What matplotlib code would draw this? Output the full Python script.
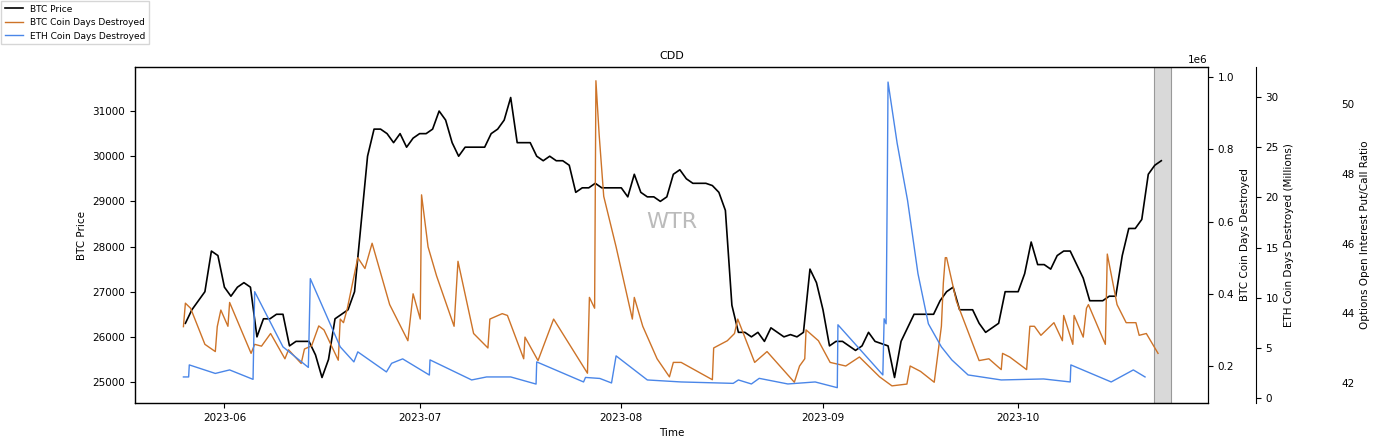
import numpy as np
import pandas as pd
import matplotlib

matplotlib.use("Agg")
import matplotlib.pyplot as plt

# BTC price, daily, 2023-05-26 .. 2023-10-23
price_start = "2023-05-26"
btc_price = [
    26300, 26600, 26800, 27000, 27900, 27800, 27100,
    26900, 27100, 27200, 27100, 26000, 26400, 26400, 26500, 26500, 25800,
    25900, 25900, 25900, 25600, 25100, 25500, 26400, 26500, 26600, 27000,
    28500, 30000, 30600, 30600, 30500, 30300, 30500, 30200, 30400, 30500,
    30500, 30600, 31000, 30800, 30300, 30000, 30200, 30200, 30200, 30200,
    30500, 30600, 30800, 31300, 30300, 30300, 30300, 30000, 29900, 30000,
    29900, 29900, 29800, 29200, 29300, 29300, 29400, 29300, 29300, 29300, 29300,
    29100, 29600, 29200, 29100, 29100, 29000, 29100, 29600, 29700, 29500,
    29400, 29400, 29400, 29350, 29200, 28800, 26700, 26100, 26100, 26000,
    26100, 25900, 26200, 26100, 26000, 26050, 26000, 26100, 27500, 27200, 26600,
    25800, 25900, 25900, 25800, 25700, 25800, 26100, 25900, 25850, 25800,
    25100, 25900, 26200, 26500, 26500, 26500, 26500, 26800, 27000, 27100,
    26600, 26600, 26600, 26300, 26100, 26200, 26300, 27000, 27000, 27000,
    27400, 28100, 27600, 27600, 27500, 27800, 27900, 27900, 27600, 27300,
    26800, 26800, 26800, 26900, 26900, 27800, 28400, 28400, 28600, 29600,
    29800, 29900,
]

# keypoints: days after 2023-06-01
base_date = "2023-06-01"
btc_cdd_days = [
    -6.3, -6.0, -5.2, -3.0, -1.4, -1.1, -0.55, 0.54, 0.8, 4.1, 4.65, 5.7, 7.1,
    9.3, 9.85, 11.8, 12.3, 13.4, 14.5, 15.3, 17.5, 17.8, 18.3, 18.9, 20.5,
    21.6, 22.7, 25.4, 28.2, 29.0, 30.1, 30.3, 31.3, 32.6, 35.3, 35.9, 38.3,
    40.5, 40.8, 42.7, 43.5, 46.0, 46.2, 48.2, 50.6, 55.8, 56.1, 56.9, 57.1,
    57.6, 58.3, 60.2, 62.7, 63.0, 64.3, 66.5, 68.4, 69.0, 70.2, 75.0, 75.2,
    77.3, 78.4, 78.9, 81.5, 83.4, 87.6, 88.4, 89.2, 89.4, 91.3, 93.1, 95.5,
    97.6, 100.7, 102.6, 104.9, 105.4, 107.0, 109.1, 110.2, 110.5, 110.8,
    111.0, 112.5, 116.0, 117.5, 119.4, 119.6, 120.7, 123.3, 123.8, 124.5,
    125.5, 127.5, 128.8, 129.0, 130.4, 130.6, 132.0, 132.5, 132.8, 135.4,
    135.7, 137.2, 138.6, 140.1, 140.6, 141.7, 143.5,
]
btc_cdd = [
    0.309, 0.374, 0.36, 0.26, 0.24, 0.309, 0.355, 0.31, 0.376, 0.235, 0.26,
    0.255, 0.29, 0.22, 0.245, 0.207, 0.247, 0.256, 0.311, 0.30, 0.216, 0.33,
    0.32, 0.36, 0.50, 0.47, 0.54, 0.37, 0.27, 0.40, 0.33, 0.674, 0.53, 0.45,
    0.31, 0.49, 0.29, 0.25, 0.33, 0.345, 0.34, 0.22, 0.28, 0.215, 0.33, 0.18,
    0.39, 0.36, 0.99, 0.84, 0.67, 0.53, 0.33, 0.39, 0.31, 0.22, 0.17, 0.21,
    0.21, 0.162, 0.25, 0.27, 0.29, 0.33, 0.21, 0.24, 0.155, 0.20, 0.22, 0.30,
    0.27, 0.21, 0.20, 0.225, 0.17, 0.145, 0.15, 0.20, 0.185, 0.155, 0.31,
    0.43, 0.50, 0.50, 0.38, 0.215, 0.22, 0.19, 0.235, 0.225, 0.19, 0.31,
    0.31, 0.285, 0.32, 0.27, 0.34, 0.26, 0.34, 0.28, 0.36, 0.37, 0.26, 0.51,
    0.37, 0.32, 0.32, 0.285, 0.29, 0.235,
]

eth_cdd_days = [
    -6.3, -5.5, -5.4, -1.4, 0.8, 4.4, 4.65, 9.0, 12.9, 13.2, 17.8, 19.9,
    20.5, 24.9, 25.7, 27.0, 27.4, 31.5, 31.6, 38.0, 40.3, 44.0, 47.9, 48.0,
    55.2, 55.5, 57.7, 59.5, 60.2, 65.0, 70.2, 78.2, 79.0, 81.0, 82.2, 86.6,
    90.8, 94.2, 94.3, 101.2, 101.4, 101.7, 101.9, 102.0, 103.4, 105.0, 106.6,
    108.2, 110.2, 111.8, 114.3, 119.4, 125.9, 130.0, 130.1, 136.3, 139.7,
    141.5,
]
eth_cdd = [
    2.1, 2.1, 3.3, 2.45, 2.8, 1.86, 10.6, 5.1, 3.05, 11.9, 5.1, 3.6, 4.6, 2.6,
    3.46, 3.8, 3.9, 2.29, 3.8, 1.8, 2.1, 2.1, 1.39, 3.6, 1.6, 2.05, 1.95,
    1.5, 4.2, 1.8, 1.6, 1.46, 1.8, 1.4, 1.96, 1.4, 1.6, 1.03, 7.3, 2.3, 7.9,
    7.4, 22.4, 31.5, 25.4, 19.7, 12.4, 7.4, 5.1, 3.8, 2.3, 1.8, 1.9, 1.6, 3.3,
    1.6, 2.8, 2.1,
]

price_dates = pd.date_range(price_start, periods=len(btc_price), freq="D")
base = pd.Timestamp(base_date)
btc_cdd_dates = base + pd.to_timedelta(btc_cdd_days, unit="D")
eth_cdd_dates = base + pd.to_timedelta(eth_cdd_days, unit="D")

plt.rcParams["font.size"] = 7.5

fig = plt.figure(figsize=(14, 4.48), dpi=100)
ax = fig.add_axes([0.0964, 0.1004, 0.7664, 0.75])

l1, = ax.plot(price_dates, btc_price, color="black", linewidth=1.2, label="BTC Price")
ax.set_ylabel("BTC Price")
ax.set_xlabel("Time")
ax.set_title("CDD", fontsize=8)
ax.set_ylim(24535, 31975)
ax.set_xlim(pd.Timestamp("2023-05-18 06:00"), pd.Timestamp("2023-10-30 04:00"))
ax.axvspan(pd.Timestamp("2023-10-21 22:00"), pd.Timestamp("2023-10-24 12:00"),
           facecolor="#d9d9d9", edgecolor="#999999", linewidth=0.8, zorder=0)
ax.xaxis.set_major_locator(matplotlib.dates.MonthLocator())
ax.xaxis.set_major_formatter(matplotlib.dates.DateFormatter("%Y-%m"))

ax2 = ax.twinx()
l2, = ax2.plot(btc_cdd_dates, np.array(btc_cdd) * 1e6, color="#cd7328",
               linewidth=1.0, label="BTC Coin Days Destroyed")
ax2.set_ylim(0.0975e6, 1.028e6)
ax2.set_ylabel("BTC Coin Days Destroyed")

ax3 = ax.twinx()
ax3.spines["right"].set_position(("outward", 34.5))
l3, = ax3.plot(eth_cdd_dates, eth_cdd, color="#4a86e8", linewidth=1.0,
               label="ETH Coin Days Destroyed")
ax3.set_ylim(-0.5, 33)
ax3.set_ylabel("ETH Coin Days Destroyed (Millions)")

ax4 = ax.twinx()
ax4.spines["right"].set_position(("outward", 93))
ax4.spines["right"].set_visible(False)
ax4.set_ylim(41.43, 51.06)
ax4.set_yticks([42, 44, 46, 48, 50])
ax4.tick_params(axis="y", length=0, pad=3)
ax4.set_ylabel("Options Open Interest Put/Call Ratio")

ax.text(0.5, 0.54, "WTR", transform=ax.transAxes, fontsize=16,
        color="#aaaaaa", alpha=0.8, ha="center", va="center")

fig.legend(handles=[l1, l2, l3], loc="upper left", bbox_to_anchor=(0, 1),
           fontsize=6.5, frameon=True, fancybox=False, borderaxespad=0.1)

fig.savefig("out.png", dpi=100)
